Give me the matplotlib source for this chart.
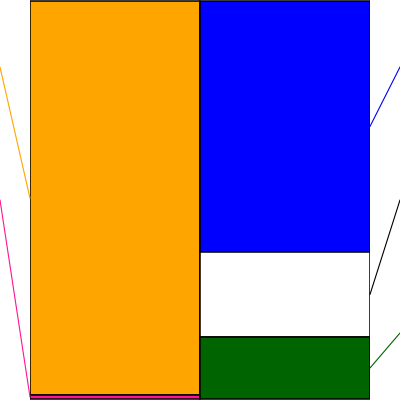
import matplotlib
matplotlib.use("Agg")
import matplotlib.pyplot as plt

# ==========================
# DATA (share of total, %)
# ==========================
left_labels = ["orange", "pink"]
left_values = [99.1, 0.9]          # top -> bottom
left_colors = ["#FFA500", "#FF1493"]

right_labels = ["blue", "white", "green"]
right_values = [63.0, 21.5, 15.5]  # top -> bottom
right_colors = ["#0000FF", "#FFFFFF", "#006400"]

# where the (off-canvas) labels sit, figure fraction y
left_label_y = [0.8325, 0.5]
right_label_y = [0.8325, 0.5, 0.1675]
right_line_colors = ["#0000FF", "#000000", "#006400"]

fig = plt.figure(figsize=(4, 4), dpi=100)
ax = fig.add_axes([0.075, 0.0, 0.85, 1.0])


def stack(x, values, colors):
    mids = []
    bottom = sum(values)
    for v, c in zip(values, colors):
        bottom -= v
        ax.bar(x, v, bottom=bottom, width=1.0, color=c,
               edgecolor="black", linewidth=1.1)
        mids.append(bottom + v / 2)
    return mids


left_mids = stack(0, left_values, left_colors)
right_mids = stack(1, right_values, right_colors)

ax.set_xlim(-0.5, 1.5)
ax.set_ylim(-0.3, 100.3)
ax.axis("off")

# leader lines to labels outside the picture
for mid, ly, c in zip(left_mids, left_label_y, left_colors):
    ax.annotate("", xy=(-0.5, mid), xycoords="data",
                xytext=(0.0, ly), textcoords="figure fraction",
                arrowprops=dict(arrowstyle="-", color=c, lw=0.8,
                                shrinkA=0, shrinkB=0))

for mid, ly, c in zip(right_mids, right_label_y, right_line_colors):
    ax.annotate("", xy=(1.5, mid), xycoords="data",
                xytext=(1.0, ly), textcoords="figure fraction",
                arrowprops=dict(arrowstyle="-", color=c, lw=0.8,
                                shrinkA=0, shrinkB=0))

fig.savefig("out.png", dpi=100)
